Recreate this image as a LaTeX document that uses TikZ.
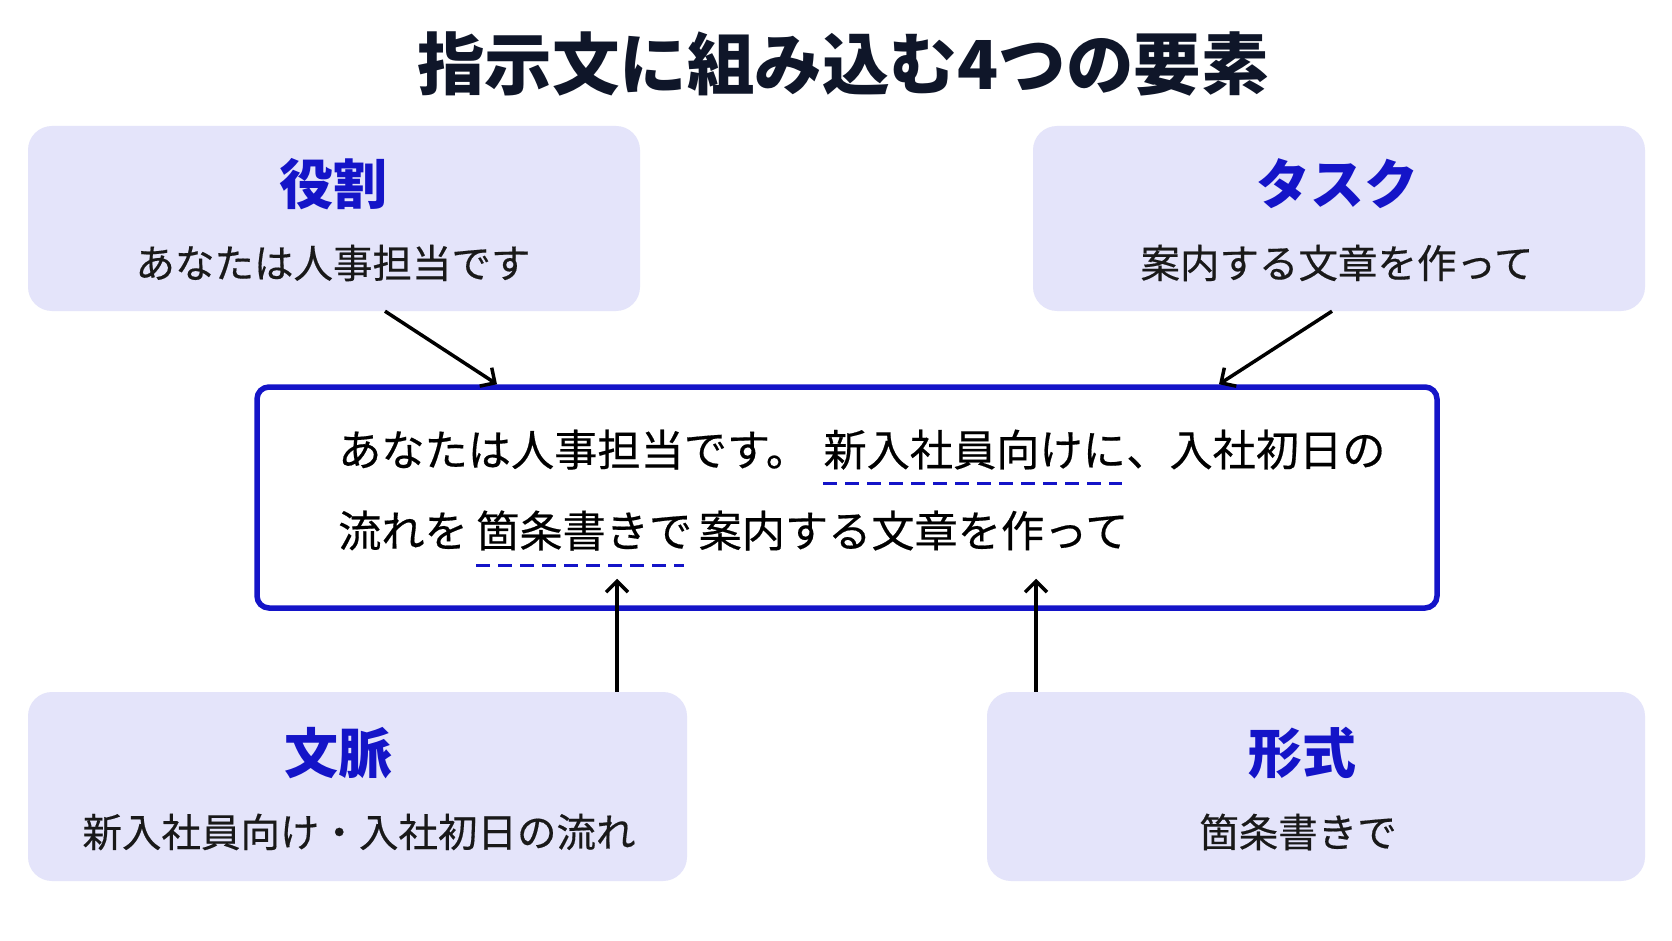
\documentclass[tikz,border=0pt]{standalone}
\usepackage{fontspec}
\setmainfont{Noto Sans CJK JP}
\newfontfamily\jpmed[FakeBold=0.4]{Noto Sans CJK JP}
\usetikzlibrary{arrows.meta,calc}
\definecolor{lav}{HTML}{E4E4FA}
\definecolor{navy}{HTML}{0F1629}
\definecolor{accent}{HTML}{1414C8}
\begin{document}
\begin{tikzpicture}[x=1pt,y=-1pt,
  card/.style={fill=lav, rounded corners=24pt, inner sep=0pt, draw=none},
  head/.style={font=\bfseries\fontsize{54}{60}\selectfont, text=accent, inner sep=0pt},
  sub/.style={font=\jpmed\fontsize{39.5}{44}\selectfont, text=black!90, inner sep=0pt},
  body/.style={font=\jpmed\fontsize{43.2}{48}\selectfont, inner sep=0pt, anchor=base west},
  arr/.style={-{Straight Barb[length=11pt,width=22pt,line width=3.5pt]}, line width=3.5pt},
  uline/.style={accent, line width=3pt, dash pattern=on 14pt off 8pt}]
\useasboundingbox (0,0) rectangle (1672,941);
\fill[white] (0,0) rectangle (1672,941);

\node[font=\bfseries\fontsize{67.5}{72}\selectfont, text=navy, inner sep=0pt] (title) at (843,64) {指示文に組み込む4つの要素};

\node[card, minimum width=612pt, minimum height=185pt] (role) at (334,218.5) {};
\node[card, minimum width=612pt, minimum height=185pt] (task) at (1339,218.5) {};
\node[card, minimum width=659pt, minimum height=189pt] (context) at (357.5,786.5) {};
\node[card, minimum width=658pt, minimum height=189pt] (format) at (1316,786.5) {};

\node[head] (roleh) at (333,184) {役割};
\node[sub] (roles) at (333,263) {あなたは人事担当です};
\node[head] (taskh) at (1337,184) {タスク};
\node[sub] (tasks) at (1337,263) {案内する文章を作って};
\node[head] (contexth) at (338,753) {文脈};
\node[sub] (contexts) at (359,832) {新入社員向け・入社初日の流れ};
\node[head] (formath) at (1302,753) {形式};
\node[sub] (formats) at (1298,832) {箇条書きで};

\node[draw=accent, line width=5.5pt, rounded corners=12pt, minimum width=1180pt, minimum height=221pt, inner sep=0pt] (main) at (847,497.5) {};

\node[body] (l1a) at (338,466) {あなたは人事担当です。};
\node[body] (l1b) at ([xshift=14pt]l1a.base east) {新入社員向けに};
\node[body] (l1c) at (l1b.base east) {、入社初日の};
\node[body] (l2a) at (338,547) {流れを};
\node[body] (l2b) at ([xshift=8pt]l2a.base east) {箇条書きで};
\node[body] (l2c) at ([xshift=6pt]l2b.base east) {案内する文章を作って};

\draw[uline] ([yshift=-17pt]l1b.base west) -- ([yshift=-17pt,xshift=-4pt]l1b.base east);
\draw[uline] ([yshift=-18pt]l2b.base west) -- ([yshift=-18pt,xshift=-8pt]l2b.base east);

\draw[arr] ([xshift=51pt]role.south) -- ([xshift=-350pt]main.north);
\draw[arr] ([xshift=-7pt]task.south) -- ([xshift=372pt]main.north);
\draw[arr] ([xshift=259.5pt]context.north) -- ([xshift=-230pt,yshift=32pt]main.south);
\draw[arr] ([xshift=-280pt]format.north) -- ([xshift=189pt,yshift=32pt]main.south);
\end{tikzpicture}
\end{document}
